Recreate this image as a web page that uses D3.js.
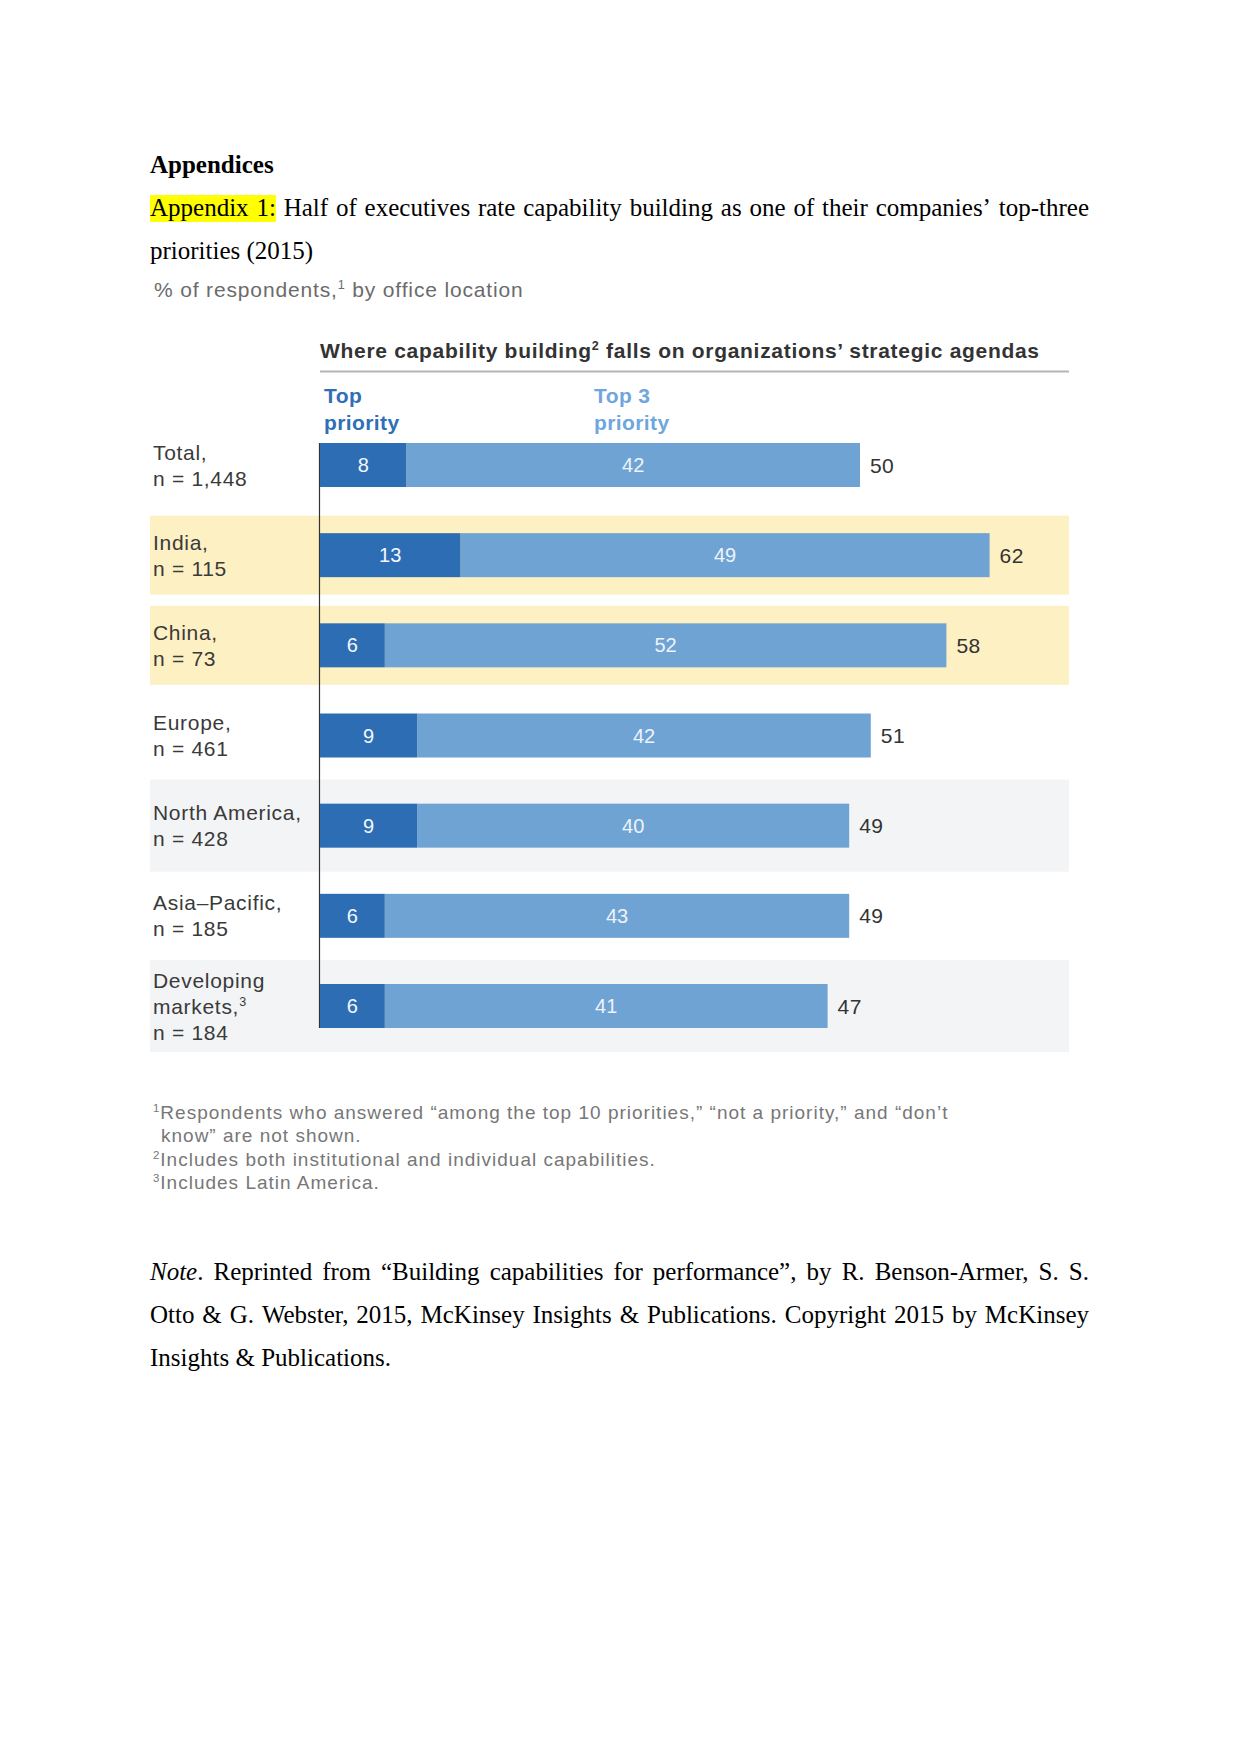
<!DOCTYPE html>
<html><head><meta charset="utf-8">
<script src="https://cdn.jsdelivr.net/npm/d3@7"></script>
<style>body{margin:0;background:#fff} svg{display:block}</style>
</head><body>
<svg id="page" width="1241" height="1754"></svg>
<script>
// ---------- data ----------
const regions = ["Total","India","China","Europe","North America","Asia–Pacific","Developing markets"];
const rowLabels = [["Total,","n = 1,448"],["India,","n = 115"],["China,","n = 73"],["Europe,","n = 461"],["North America,","n = 428"],["Asia–Pacific,","n = 185"],["Developing","markets,^3","n = 184"]];
const topPriority = [8,13,6,9,9,6,6];
const top3Priority = [42,49,52,42,40,43,41];
const totalPriority = [50,62,58,51,49,49,47];
const rowShade = ["none","focus","focus","none","alt","none","alt"];
const seriesNames = [["Top","priority"],["Top 3","priority"]];

const heading = "Appendices";
const captionLines = ["Appendix 1: Half of executives rate capability building as one of their companies’ top-three","priorities (2015)"];
const subtitle = "% of respondents,^1 by office location";
const chartTitle = "Where capability building^2 falls on organizations’ strategic agendas";
const footnotes = ["^1Respondents who answered “among the top 10 priorities,” “not a priority,” and “don’t","know” are not shown.","^2Includes both institutional and individual capabilities.","^3Includes Latin America."];
const noteLines = ["*Note*. Reprinted from “Building capabilities for performance”, by R. Benson-Armer, S. S.","Otto & G. Webster, 2015, McKinsey Insights & Publications. Copyright 2015 by McKinsey","Insights & Publications."];

// ---------- helpers ----------
const svg = d3.select("#page");
const SERIF = "'Liberation Serif','Times New Roman',serif";
const SANS = "'Liberation Sans',Arial,Helvetica,sans-serif";

function rich(textSel, str, size) {
  const parts = str.split(/(\^\d)/).filter(s => s.length);
  let raised = false;
  parts.forEach(p => {
    if (p[0] === "^") {
      textSel.append("tspan").attr("dy", -size*0.38).style("font-size", (size*0.6)+"px").text(p.slice(1));
      raised = true;
    } else {
      const t = textSel.append("tspan").text(p);
      if (raised) { t.attr("dy", size*0.38); raised = false; }
    }
  });
  return textSel;
}

function serifLine(g, str, x0, x1, y, justify, size) {
  const words = str.split(" ");
  const nodes = words.map(w => {
    const t = g.append("text").attr("y", y).style("font-family", SERIF).style("font-size", size+"px").attr("fill", "#000");
    const segs = w.split(/(\*[^*]+\*)/).filter(s => s.length);
    segs.forEach(s => {
      if (s[0] === "*") t.append("tspan").style("font-style","italic").text(s.slice(1,-1));
      else t.append("tspan").text(s);
    });
    return t;
  });
  const widths = nodes.map(n => n.node().getComputedTextLength());
  const gap = justify ? (x1 - x0 - d3.sum(widths)) / (words.length - 1) : size*0.25;
  let cx = x0; const pos = [];
  nodes.forEach((n,i) => { n.attr("x", cx); pos.push([cx, widths[i]]); cx += widths[i] + gap; });
  return pos;
}

// ---------- document text ----------
const doc = svg.append("g");
doc.append("text").attr("x",150).attr("y",173).style("font-family",SERIF).style("font-size","25px").style("font-weight","bold").text(heading);

const capG = doc.append("g");
const pos1 = serifLine(capG, captionLines[0], 150, 1089, 216, true, 25);
serifLine(capG, captionLines[1], 150, 1089, 259, false, 25);
capG.insert("rect", ":first-child").attr("x", pos1[0][0]).attr("y", 216-21).attr("width", pos1[1][0]+pos1[1][1]-pos1[0][0]).attr("height", 27).attr("fill", "#ffff00");

rich(doc.append("text").attr("x",154).attr("y",297).style("font-family",SANS).style("font-size","21px").style("letter-spacing","0.85px").attr("fill","#6b6b6b"), subtitle, 21);

// ---------- chart ----------
const x = d3.scaleLinear().domain([0, 50]).range([320, 860]);
const y = d3.scalePoint().domain(regions).range([465, 1006]);
const barH = 44;
const shadeColor = {focus:"#fdf0c3", alt:"#f3f4f6"};
const shadeHalf = {focus:39.5, alt:46};

const chart = svg.append("g");
const rows = regions.map((r,i) => ({r, i, top: topPriority[i], top3: top3Priority[i], total: totalPriority[i], shade: rowShade[i], label: rowLabels[i]}));

chart.selectAll("rect.band").data(rows.filter(d => d.shade !== "none")).join("rect")
  .attr("class","band").attr("x",150).attr("width",1069-150)
  .attr("y", d => y(d.r) - shadeHalf[d.shade]).attr("height", d => shadeHalf[d.shade]*2)
  .attr("fill", d => shadeColor[d.shade]);

// title + rule
rich(chart.append("text").attr("x",320).attr("y",358).style("font-family",SANS).style("font-size","21px").style("letter-spacing","0.7px").style("font-weight","bold").attr("fill","#333"), chartTitle, 21);
chart.append("line").attr("x1",320).attr("x2",1069).attr("y1",371.5).attr("y2",371.5).attr("stroke","#b5b5b5").attr("stroke-width",2);

// series headers
const headColors = ["#2f6fb5","#6fa6dc"];
const headX = [x(0)+4, x(25)+4];
seriesNames.forEach((lines,k) => {
  const t = chart.append("text").style("font-family",SANS).style("font-size","21px").style("letter-spacing","0.4px").style("font-weight","bold").attr("fill",headColors[k]);
  lines.forEach((l,j) => t.append("tspan").attr("x",headX[k]).attr("y",403+27*j).text(l));
});

// axis line
chart.append("line").attr("x1",x(0)-0.5).attr("x2",x(0)-0.5).attr("y1",y(regions[0])-barH/2).attr("y2",y(regions[regions.length-1])+barH/2).attr("stroke","#333").attr("stroke-width",1.2);

// bars
chart.selectAll("rect.top3").data(rows).join("rect").attr("class","top3")
  .attr("x", d => x(d.top)).attr("width", d => x(d.top+d.top3)-x(d.top))
  .attr("y", d => y(d.r)-barH/2).attr("height", barH).attr("fill","#6fa3d4");
chart.selectAll("rect.top").data(rows).join("rect").attr("class","top")
  .attr("x", x(0)).attr("width", d => x(d.top)-x(0))
  .attr("y", d => y(d.r)-barH/2).attr("height", barH).attr("fill","#2d6db4");

// inside labels
chart.selectAll("text.inTop").data(rows).join("text").attr("class","inTop")
  .attr("x", d => (x(0)+x(d.top))/2).attr("y", d => y(d.r)+7).attr("text-anchor","middle")
  .style("font-family",SANS).style("font-size","20px").attr("fill","#f4f7fc").text(d => d.top);
chart.selectAll("text.in3").data(rows).join("text").attr("class","in3")
  .attr("x", d => (x(d.top)+x(d.top+d.top3))/2).attr("y", d => y(d.r)+7).attr("text-anchor","middle")
  .style("font-family",SANS).style("font-size","20px").attr("fill","#eef3fa").text(d => d.top3);
// totals
chart.selectAll("text.tot").data(rows).join("text").attr("class","tot")
  .attr("x", d => x(d.total)+10).attr("y", d => y(d.r)+7.5)
  .style("font-family",SANS).style("font-size","21px").style("letter-spacing","0.4px").attr("fill","#333").text(d => d.total);

// row labels
rows.forEach(d => {
  const n = d.label.length;
  d.label.forEach((l,j) => {
    const base = y(d.r) + 7.5 - (n-1)*26/2 + j*26;
    rich(chart.append("text").attr("x",153).attr("y",base).style("font-family",SANS).style("font-size","21px").style("letter-spacing","0.7px").attr("fill","#3a3a3a"), l, 21);
  });
});

// footnotes
const fnY = [1119, 1142, 1166, 1189];
footnotes.forEach((f,i) => {
  rich(chart.append("text").attr("x", i===1 ? 161 : 153).attr("y", fnY[i]).style("font-family",SANS).style("font-size","19px").style("letter-spacing","1px").attr("fill","#777"), f, 19);
});

// note paragraph
const noteG = svg.append("g");
serifLine(noteG, noteLines[0], 150, 1089, 1280, true, 25);
serifLine(noteG, noteLines[1], 150, 1089, 1323, true, 25);
serifLine(noteG, noteLines[2], 150, 1089, 1366, false, 25);
</script>
</body></html>
